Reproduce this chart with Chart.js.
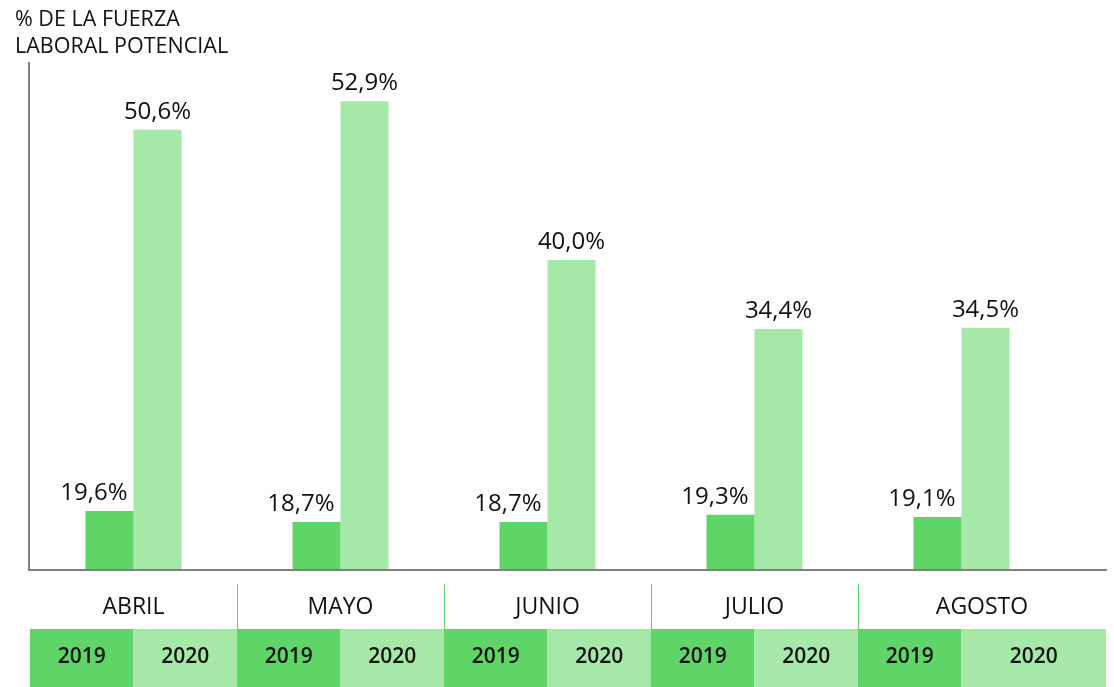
<!DOCTYPE html>
<html>
<head>
<meta charset="utf-8">
<script src="https://cdn.jsdelivr.net/npm/chart.js@4/dist/chart.umd.min.js"></script>
<style>
  html, body { margin: 0; padding: 0; background: #fff; }
  #wrap { width: 1114px; height: 687px; }
</style>
</head>
<body>
<div id="wrap"><canvas id="chart" width="1114" height="687"></canvas></div>
<script>
const months = ['ABRIL', 'MAYO', 'JUNIO', 'JULIO', 'AGOSTO'];
const years = ['2019', '2020'];
const values2019 = [19.6, 18.7, 18.7, 19.3, 19.1];
const values2020 = [50.6, 52.9, 40.0, 34.4, 34.5];
const yTitle = ['% DE LA FUERZA', 'LABORAL POTENCIAL'];

const dark = '#5fd568';
const light = '#a6e8a8';
const font = '"Open Sans", "Noto Sans", sans-serif';

function fmt(v) {
  return v.toFixed(1).replace('.', ',') + '%';
}

const decorPlugin = {
  id: 'decor',
  afterDatasetsDraw(chart) {
    const ctx = chart.ctx;
    const area = chart.chartArea;
    const xs = chart.scales.x;
    const w = (area.right - area.left) / months.length;
    ctx.save();

    // value labels
    ctx.font = '24px ' + font;
    ctx.fillStyle = '#111';
    ctx.textBaseline = 'alphabetic';
    chart.data.datasets.forEach((ds, di) => {
      chart.getDatasetMeta(di).data.forEach((bar, i) => {
        const txt = fmt(ds.data[i]);
        if (di === 0) {
          ctx.textAlign = 'right';
          ctx.fillText(txt, bar.x + bar.width / 2 - 6, bar.y - 11);
        } else {
          ctx.textAlign = 'center';
          ctx.fillText(txt, bar.x, bar.y - 11);
        }
      });
    });

    // axis lines
    ctx.strokeStyle = '#808080';
    ctx.lineWidth = 2;
    ctx.beginPath();
    ctx.moveTo(area.left - 1, area.top);
    ctx.lineTo(area.left - 1, area.bottom);
    ctx.lineTo(1107, area.bottom);
    ctx.stroke();

    // axis title
    ctx.font = '21.5px ' + font;
    ctx.textAlign = 'left';
    ctx.fillStyle = '#111';
    ctx.fillText(yTitle[0], 15, 26);
    ctx.fillText(yTitle[1], 15, 53);

    // table under the axis
    const rowTop = 584, rowMid = 629, rowBot = 687;
    months.forEach((m, i) => {
      const cx = xs.getPixelForValue(i);
      const left = area.left + i * w;
      const right = i === months.length - 1 ? 1106 : area.left + (i + 1) * w;

      ctx.fillStyle = dark;
      ctx.fillRect(left, rowMid, cx - left, rowBot - rowMid);
      ctx.fillStyle = light;
      ctx.fillRect(cx, rowMid, right - cx, rowBot - rowMid);

      if (i > 0) {
        ctx.strokeStyle = dark;
        ctx.lineWidth = 1;
        ctx.beginPath();
        ctx.moveTo(Math.round(left) + 0.5, rowTop);
        ctx.lineTo(Math.round(left) + 0.5, rowMid);
        ctx.stroke();
      }

      ctx.fillStyle = '#111';
      ctx.textAlign = 'center';
      ctx.textBaseline = 'middle';
      ctx.font = '23px ' + font;
      ctx.fillText(m, (left + right) / 2, 607);

      ctx.font = '600 21px ' + font;
      ctx.fillText(years[0], (left + cx) / 2, 657);
      ctx.fillText(years[1], (cx + right) / 2, 657);
    });

    ctx.restore();
  }
};

new Chart(document.getElementById('chart'), {
  type: 'bar',
  data: {
    labels: months,
    datasets: [
      { label: years[0], data: values2019, backgroundColor: dark },
      { label: years[1], data: values2020, backgroundColor: light }
    ]
  },
  options: {
    responsive: false,
    animation: false,
    devicePixelRatio: 1,
    layout: { padding: { left: 30, top: 62, right: 49, bottom: 117 } },
    datasets: {
      bar: { categoryPercentage: 0.4638, barPercentage: 1, borderWidth: 0 }
    },
    scales: {
      x: { display: false },
      y: { display: false, min: 14.8, max: 56.1 }
    },
    plugins: {
      legend: { display: false },
      tooltip: { enabled: false }
    }
  },
  plugins: [decorPlugin]
});
</script>
</body>
</html>
